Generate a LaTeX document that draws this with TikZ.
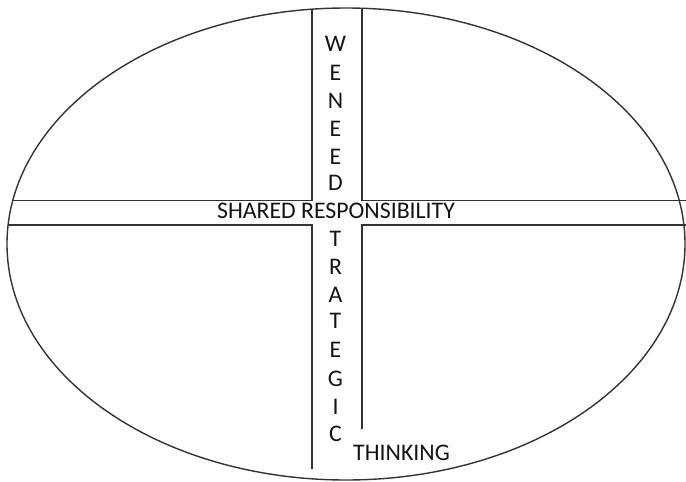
\documentclass[tikz,border=0pt]{standalone}
\usepackage{fontspec}
\setmainfont{Carlito}
\definecolor{linecol}{HTML}{333333}
\definecolor{textcol}{HTML}{141414}
\begin{document}
\begin{tikzpicture}[x=1pt,y=-1pt,
  edge/.style={draw=linecol,line width=1.4pt},
  lbl/.style={inner sep=0pt,text=textcol,font=\fontsize{23.8}{27}\selectfont},
  vl/.style={lbl,anchor=center}]
\useasboundingbox (0,0) rectangle (686,482);
\fill[white] (0,0) rectangle (686,482);
\draw[edge] (346,244) ellipse [x radius=339, y radius=236];
% horizontal band
\draw[edge] (12.8,200.5) -- (312,200.5) -- (312,8.5);
\draw[edge] (362,8.5) -- (362,200.5) -- (686,200.5);
\draw[edge] (8.1,225) -- (312,225) -- (312,469);
\draw[edge] (686,225) -- (362,225) -- (362,429);
% texts
\node[lbl] (shared) at (336,211) {SHARED RESPONSIBILITY};
\node[lbl] (thinking) at (401.5,453) {THINKING};
\node[vl] (w1) at (335.5,44) {W};
\node[vl] (e1) at (335.5,73) {E};
\node[vl] (n1) at (335.5,100.5) {N};
\node[vl] (e2) at (335.5,129) {E};
\node[vl] (e3) at (335.5,157) {E};
\node[vl] (d1) at (335.5,183) {D};
\node[vl] (t1) at (335.5,238.5) {T};
\node[vl] (r1) at (335.5,267) {R};
\node[vl] (a1) at (335.5,295) {A};
\node[vl] (t2) at (335.5,321) {T};
\node[vl] (e4) at (335.5,350) {E};
\node[vl] (g1) at (335.5,378.5) {G};
\node[vl] (i1) at (335.5,406.5) {I};
\node[vl] (c1) at (335.5,433.5) {C};
\end{tikzpicture}
\end{document}
